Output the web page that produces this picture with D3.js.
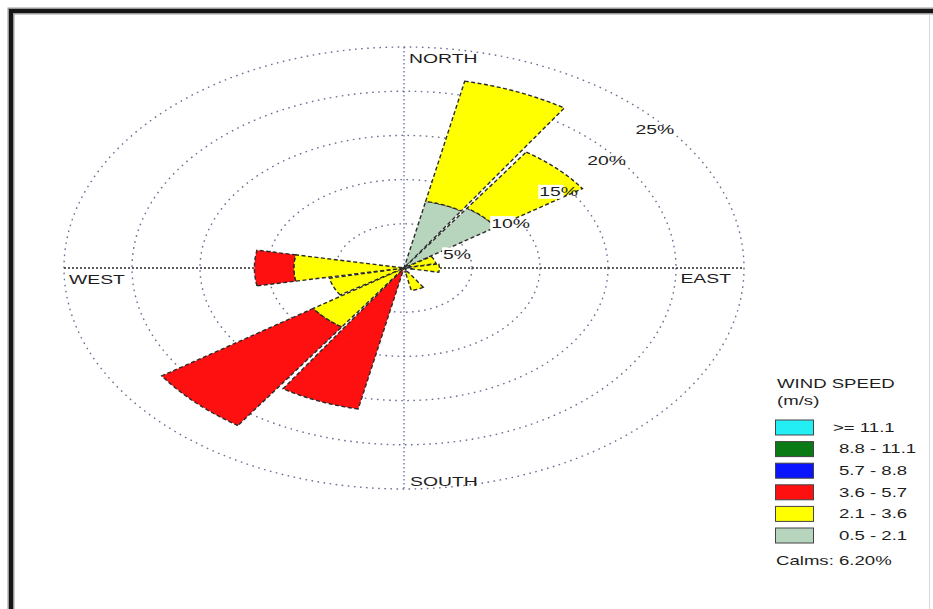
<!DOCTYPE html>
<html>
<head>
<meta charset="utf-8">
<script src="https://cdn.jsdelivr.net/npm/d3@7"></script>
<style>
  html, body { margin: 0; padding: 0; background: #fff; }
  svg { display: block; }
  text { font-family: "Liberation Sans", Arial, sans-serif; fill: #1e1e1e; }
</style>
</head>
<body>
<svg id="chart" width="933" height="609"></svg>
<script>
// Sixteen compass sectors, clockwise from north (degrees)
const directions = ["N","NNE","NE","ENE","E","ESE","SE","SSE","S","SSW","SW","WSW","W","WNW","NW","NNW"];

// Frequency (%) of each wind speed class per direction
const calm05to21  = [0, 7.7, 8.2, 0.5, 0.6, 0, 0, 0.5, 0, 0,    0,   0,   0,   0, 0, 0];
const speed21to36 = [0, 13.9, 7.7, 1.9, 2.0, 0, 0, 2.1, 0, 0,    8.1, 5.6, 8.1, 0, 0, 0];
const speed36to57 = [0, 0,    0,   0,   0,   0, 0, 0,   0, 16.3, 13.5, 0,  2.9, 0, 0, 0];
const speed57to88 = [0, 0, 0, 0, 0, 0, 0, 0, 0, 0, 0, 0, 0, 0, 0, 0];
const speed88to111 = [0, 0, 0, 0, 0, 0, 0, 0, 0, 0, 0, 0, 0, 0, 0, 0];
const speedOver111 = [0, 0, 0, 0, 0, 0, 0, 0, 0, 0, 0, 0, 0, 0, 0, 0];

// Speed classes, drawn from the centre outward
const classLabels = ["0.5 - 2.1", "2.1 - 3.6", "3.6 - 5.7", "5.7 - 8.8", "8.8 - 11.1", ">= 11.1"];
const classColors = ["#b7d5bd", "#ffff00", "#ff1010", "#0a14ff", "#0a7a14", "#22eef4"];
const classSeries = [calm05to21, speed21to36, speed36to57, speed57to88, speed88to111, speedOver111];

const ringTicks = [5, 10, 15, 20, 25];
const calmsText = "Calms: 6.20%";

const svg = d3.select("#chart");
const cx = 404, cy = 268;
const STRETCH = 1.55;

// Horizontal and vertical radial scales (the rose is drawn as an ellipse)
const rX = d3.scaleLinear().domain([0, 25]).range([0, 340]);
const rY = d3.scaleLinear().domain([0, 25]).range([0, 221]);
const angle = d3.scaleBand().domain(directions).range([0, 360]);

function pt(deg, pct) {
  const a = deg * Math.PI / 180;
  return [cx + rX(pct) * Math.sin(a), cy - rY(pct) * Math.cos(a)];
}

// Frame
svg.append("path")
  .attr("d", "M11,640 L11,11 L940,11")
  .attr("fill", "none").attr("stroke", "#9a9a9a").attr("stroke-width", 7);
svg.append("path")
  .attr("d", "M11,640 L11,11 L940,11")
  .attr("fill", "none").attr("stroke", "#161616").attr("stroke-width", 4);
svg.append("line")
  .attr("x1", 929.5).attr("x2", 929.5).attr("y1", 14).attr("y2", 609)
  .attr("stroke", "#d6d6d6").attr("stroke-width", 1);

// Grid ellipses
const grid = svg.append("g");
grid.selectAll("ellipse").data(ringTicks).join("ellipse")
  .attr("cx", cx).attr("cy", cy)
  .attr("rx", d => rX(d)).attr("ry", d => rY(d))
  .attr("fill", "none")
  .attr("stroke", "#6a6f94")
  .attr("stroke-width", 1.4)
  .attr("stroke-dasharray", "1.6,4.5");

// Axes
grid.append("line")
  .attr("x1", cx - rX(25)).attr("x2", cx + rX(25)).attr("y1", cy).attr("y2", cy)
  .attr("stroke", "#2a2a2a").attr("stroke-width", 1.5).attr("stroke-dasharray", "2,2");
grid.append("line")
  .attr("x1", cx).attr("x2", cx).attr("y1", cy - rY(25)).attr("y2", cy + rY(25))
  .attr("stroke", "#5a5fb0").attr("stroke-width", 1.2).attr("stroke-dasharray", "1.5,2.5");

// Stacked sector wedges
const halfWidth = angle.bandwidth() * 0.47;
const line = d3.line();
const segments = [];
directions.forEach((dir, i) => {
  let base = 0;
  classSeries.forEach((series, k) => {
    const v = series[i];
    if (v > 0) {
      segments.push({ dir, k, r0: base, r1: base + v });
      base += v;
    }
  });
});

function wedgePath(d) {
  const mid = directions.indexOf(d.dir) * 22.5;
  const a0 = mid - halfWidth, a1 = mid + halfWidth;
  const steps = 24;
  const pts = [];
  for (let s = 0; s <= steps; s++) pts.push(pt(a0 + (a1 - a0) * s / steps, d.r1));
  for (let s = steps; s >= 0; s--) pts.push(pt(a0 + (a1 - a0) * s / steps, d.r0));
  return line(pts) + "Z";
}

svg.append("g").selectAll("path").data(segments).join("path")
  .attr("d", wedgePath)
  .attr("fill", d => classColors[d.k])
  .attr("stroke", "#2a2a2a")
  .attr("stroke-width", 1.4)
  .attr("stroke-dasharray", "4,2.5")
  .attr("stroke-linejoin", "miter");

// Stretched text helper
function label(g, x, y, txt, anchor, size) {
  return g.append("text")
    .attr("transform", `translate(${x},${y}) scale(${STRETCH},1)`)
    .attr("text-anchor", anchor || "start")
    .attr("dominant-baseline", "central")
    .attr("font-size", size || 12)
    .text(txt);
}

// Ring percentage labels
const ringG = svg.append("g");
ringTicks.forEach(t => {
  const [px, py] = pt(45, t);
  const x = px - 9, y = py + 17.6;
  const w = (String(t).length + 1.6) * 6.7 * STRETCH * 0.62;
  ringG.append("rect")
    .attr("x", x - 1).attr("y", y - 7).attr("width", w + 2).attr("height", 14)
    .attr("fill", "#fff");
  label(ringG, x, y, t + "%", "start", 12.5);
});

// Compass labels
const compassG = svg.append("g");
label(compassG, cx + 5, cy - rY(25) + 11, "NORTH", "start", 12.5);
label(compassG, cx + 6, cy + rY(25) - 8, "SOUTH", "start", 12.5);
label(compassG, cx - rX(25) + 5, cy + 11, "WEST", "start", 12.5);
label(compassG, cx + rX(25) - 13, cy + 10, "EAST", "end", 12.5);

// Legend
const legend = svg.append("g");
label(legend, 777, 384, "WIND SPEED", "start", 12);
label(legend, 777, 401, "(m/s)", "start", 12);
const legendOrder = d3.range(classLabels.length).reverse();
legendOrder.forEach((k, row) => {
  const y = 420 + row * 21.6;
  legend.append("rect")
    .attr("x", 775.5).attr("y", y).attr("width", 38).attr("height", 15)
    .attr("fill", classColors[k]).attr("stroke", "#444").attr("stroke-width", 1);
  label(legend, row === 0 ? 833 : 839, y + 7.5, classLabels[k], "start", 12);
});
label(legend, 776, 561, calmsText, "start", 12);
</script>
</body>
</html>
